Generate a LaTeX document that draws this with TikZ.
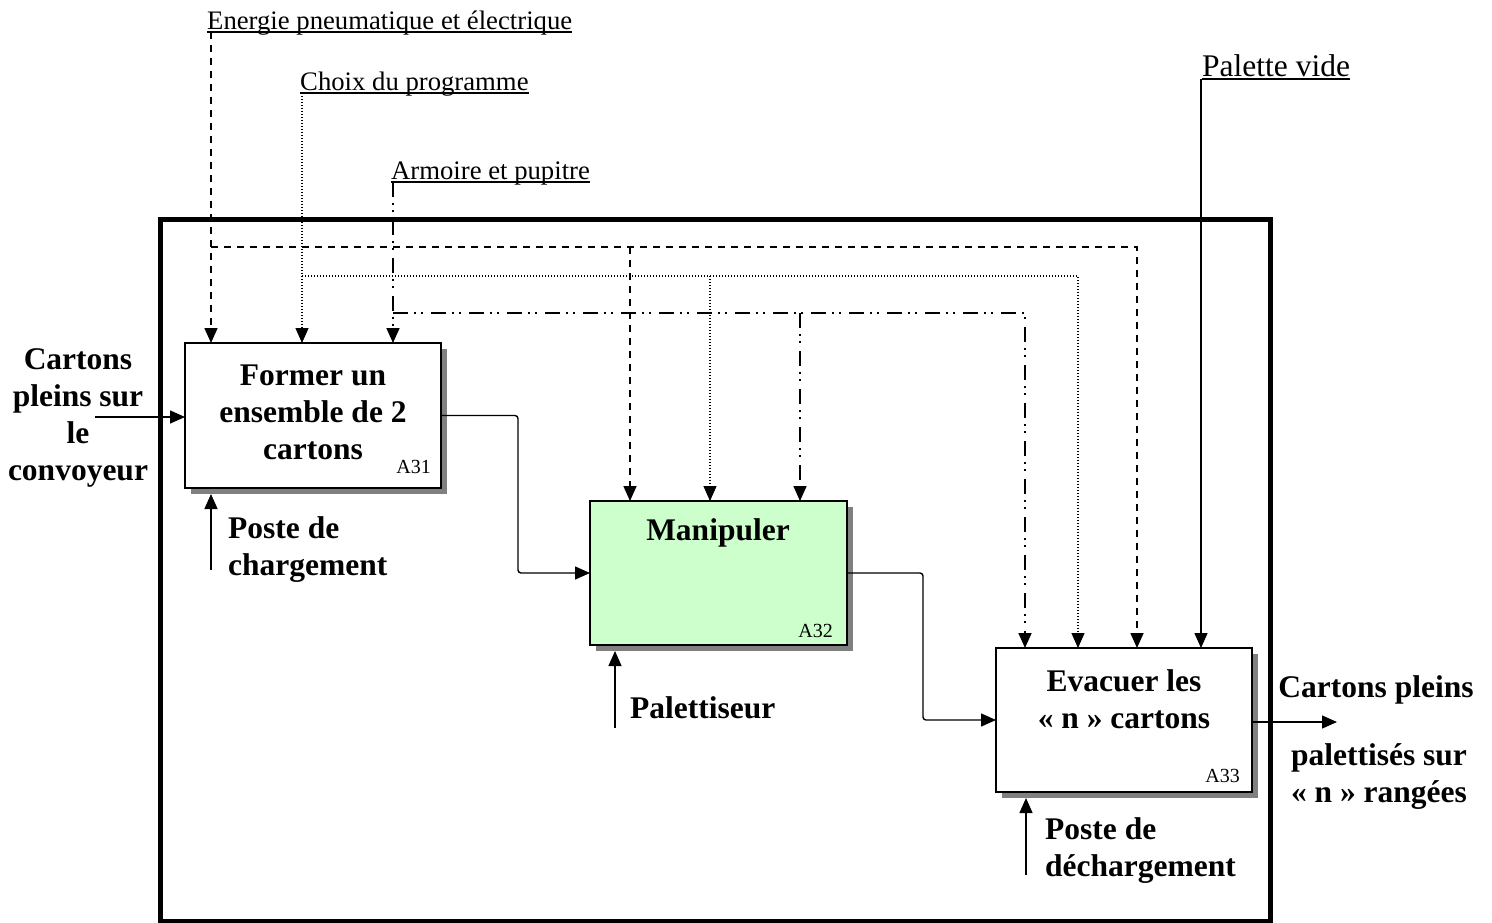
\documentclass[tikz,border=0pt]{standalone}
\usepackage{fontspec}
\setmainfont{Liberation Serif}
\usetikzlibrary{arrows.meta,shadows,calc}
\definecolor{boxgreen}{HTML}{CCFFCC}
\definecolor{shadowgray}{HTML}{808080}
\begin{document}
\begin{tikzpicture}[x=1pt,y=-1pt,
  fbox/.style={draw,line width=1.8pt,rectangle,minimum width=256pt,minimum height=145pt,
    anchor=north west,inner sep=0pt,outer sep=0pt,fill=white,
    drop shadow={shadow xshift=6pt,shadow yshift=-6pt,fill=shadowgray,opacity=1}},
  arr/.style={-{Triangle[length=15pt,width=13pt]}},
  conn/.style={line width=1.4pt,arr},
  flow/.style={line width=1.4pt,arr,rounded corners=3pt},
  dsh/.style={line width=1.6pt,dash pattern=on 7pt off 6pt},
  dtt/.style={line width=1.1pt,dash pattern=on 1pt off 2pt},
  ddt/.style={line width=1.7pt,dash pattern=on 15pt off 6pt on 2pt off 5pt on 2pt off 8pt},
  uline/.style={line width=1.4pt},
  btxt/.style={font=\fontsize{31.5}{37}\selectfont\bfseries,align=center,inner sep=0pt},
  blab/.style={font=\fontsize{31.5}{37}\selectfont\bfseries,align=left,inner sep=0pt,anchor=west},
  toplab/.style={font=\fontsize{26.7}{30}\selectfont,inner sep=0pt,anchor=base west},
  idlab/.style={font=\fontsize{20}{22}\selectfont,inner sep=0pt,anchor=base east}]
\useasboundingbox (0,0) rectangle (1492,922);

% outer frame
\draw[line width=5pt] (160.5,219) rectangle (1270.5,921);

% boxes
\node[fbox] (a31) at (185,343) {};
\node[fbox,fill=boxgreen,minimum width=257pt,minimum height=144pt] (a32) at (590,501) {};
\node[fbox,minimum height=144pt] (a33) at (996,648) {};

% box texts
\node[btxt] (t31) at (313,412) {Former un\\ensemble de 2\\cartons};
\node[btxt] (t32) at (718,533) {Manipuler};
\node[btxt] (t33) at (1124,699) {Evacuer les\\« n » cartons};
\node[idlab] (i31) at (431,473) {A31};
\node[idlab] (i32) at (833,637) {A32};
\node[idlab] (i33) at (1240,782) {A33};

% top labels
\node[toplab] (lbE) at (207,29) {Energie pneumatique et électrique};
\node[toplab] (lbC) at (300,90) {Choix du programme};
\node[toplab] (lbA) at (391,179) {Armoire et pupitre};
\node[toplab,font=\fontsize{31.5}{34}\selectfont] (lbP) at (1202,76) {Palette vide};
\foreach \n in {lbE,lbC,lbA,lbP}
  \draw[uline] ($(\n.base west)+(0,3)$) -- ($(\n.base east)+(0,3)$);

% control coordinates
\coordinate (eU) at (211,32);
\coordinate (eH) at (211,247);
\coordinate (e2) at (630,247);
\coordinate (e3) at (1137,247);
\coordinate (cU) at (302,93);
\coordinate (cH) at (302,276);
\coordinate (c2) at (710,276);
\coordinate (c3) at (1078,276);
\coordinate (aU) at (393,182);
\coordinate (aH) at (393,313);
\coordinate (a2) at (800,313);
\coordinate (a3) at (1025,313);
\coordinate (pU) at (1201,79);

% energie (dashed)
\draw[dsh,arr] (eU) -- (eU |- a31.north);
\draw[dsh,arr] (eH) -- (e3) -- (e3 |- a33.north);
\draw[dsh,arr] (e2) -- (e2 |- a32.north);
% choix (dotted)
\draw[dtt,arr] (cU) -- (cU |- a31.north);
\draw[dtt,arr] (cH) -- (c3) -- (c3 |- a33.north);
\draw[dtt,arr] (c2) -- (c2 |- a32.north);
% armoire (dash dot dot)
\draw[ddt,arr] (aU) -- (aU |- a31.north);
\draw[ddt,arr] (aH) -- (a3) -- (a3 |- a33.north);
\draw[ddt,arr] (a2) -- (a2 |- a32.north);
% palette vide
\draw[conn] (pU) -- (pU |- a33.north);

% input / output
\coordinate (in) at (95,417);
\coordinate (out) at (1337,722);
\draw[conn] (in) -- (in -| a31.west);
\draw[conn] (out -| a33.east) -- (out);
\node[btxt] (lin) at (78,418) {Cartons\\pleins sur\\le\\convoyeur};
\node[btxt] (lout1) at (1376,690) {Cartons pleins};
\node[btxt] (lout2) at (1379,777) {palettisés sur\\« n » rangées};

% flows
\draw[flow] (a31.east) -- ++(77,0) |- (a32.west);
\draw[flow] (a32.east) -- ++(76,0) |- (a33.west);

% mechanisms
\coordinate (m1) at (211,570);
\coordinate (m2) at (615,728);
\coordinate (m3) at (1026,875);
\draw[conn] (m1) -- ($(m1 |- a31.south)+(0,6)$);
\draw[conn] (m2) -- ($(m2 |- a32.south)+(0,6)$);
\draw[conn] (m3) -- ($(m3 |- a33.south)+(0,6)$);
\node[blab] (l1) at (228,550) {Poste de\\chargement};
\node[blab] (l2) at (630,708) {Palettiseur};
\node[blab] (l3) at (1045,851) {Poste de\\déchargement};
\end{tikzpicture}
\end{document}
